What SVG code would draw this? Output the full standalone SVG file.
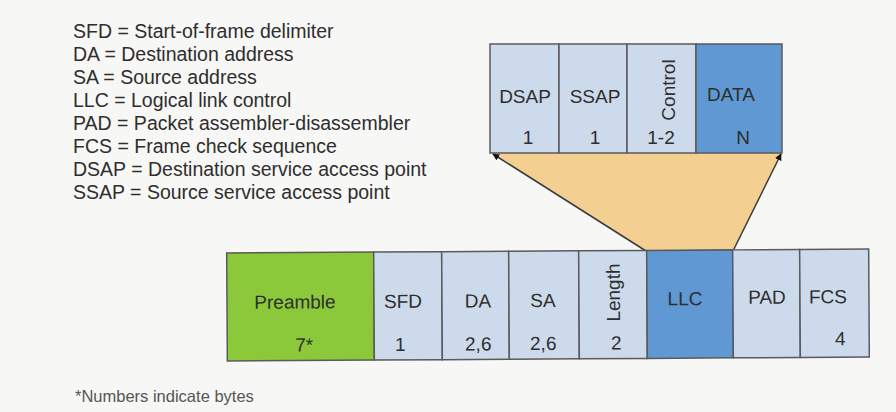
<svg xmlns="http://www.w3.org/2000/svg" width="896" height="412" viewBox="0 0 896 412">
  <style>
    text { font-family: "Liberation Sans", Arial, sans-serif; fill: #2e2e2e; }
    .legend { font-size: 19.5px; }
    .lbl { font-size: 19px; text-anchor: middle; }
    .note { font-size: 16.5px; fill: #555; }
    .cell { stroke: #5a5a5a; stroke-width: 1.5; }
    .light { fill: #ccdaeb; }
    .blue { fill: #5f98d2; }
    .green { fill: #8cc93a; }
    .link { stroke: #3a3a3a; stroke-width: 1.5; fill: none; }
  </style>
  <defs>
    <marker id="head" viewBox="0 0 10 10" refX="9" refY="5" markerWidth="7" markerHeight="7" orient="auto" markerUnits="userSpaceOnUse">
      <path d="M0,0 L10,5 L0,10 z" fill="#111"/>
    </marker>
  </defs>

  <rect x="0" y="0" width="896" height="412" fill="#f7f7f5"/>

  <!-- abbreviations -->
  <g id="legend" class="legend">
    <text x="73" y="38">SFD = Start-of-frame delimiter</text>
    <text x="73" y="61">DA = Destination address</text>
    <text x="73" y="84">SA = Source address</text>
    <text x="73" y="107">LLC = Logical link control</text>
    <text x="73" y="130">PAD = Packet assembler-disassembler</text>
    <text x="73" y="153">FCS = Frame check sequence</text>
    <text x="73" y="176">DSAP = Destination service access point</text>
    <text x="73" y="199">SSAP = Source service access point</text>
  </g>

  <!-- expansion of the LLC field -->
  <g id="connectors">
    <polygon points="492,153 782,153 733,251 646,251" fill="#f4cf92"/>
    <line class="link" x1="646" y1="251" x2="493" y2="154" marker-end="url(#head)"/>
    <line class="link" x1="733" y1="251" x2="781" y2="154" marker-end="url(#head)"/>
  </g>

  <!-- LLC sub-fields -->
  <g id="llc-frame">
    <g id="dsap">
      <rect class="cell light" x="490" y="44" width="69" height="109"/>
      <text class="lbl" x="525" y="103">DSAP</text>
      <text class="lbl" x="528" y="144">1</text>
    </g>
    <g id="ssap">
      <rect class="cell light" x="559" y="44" width="68" height="109"/>
      <text class="lbl" x="595" y="103">SSAP</text>
      <text class="lbl" x="595" y="144">1</text>
    </g>
    <g id="control">
      <rect class="cell light" x="627" y="44" width="69" height="109"/>
      <text class="lbl" transform="translate(675,90) rotate(-90)">Control</text>
      <text class="lbl" x="661" y="144">1-2</text>
    </g>
    <g id="data">
      <rect class="cell blue" x="696" y="44" width="86" height="109"/>
      <text class="lbl" x="731" y="101">DATA</text>
      <text class="lbl" x="743" y="144">N</text>
    </g>
  </g>

  <!-- Ethernet frame -->
  <g id="frame" transform="rotate(-0.35 548 305)">
    <g id="preamble">
      <rect class="cell green" x="227" y="251" width="147" height="108"/>
      <text class="lbl" x="295" y="307">Preamble</text>
      <text class="lbl" x="304" y="350">7*</text>
    </g>
    <g id="sfd">
      <rect class="cell light" x="374" y="251" width="68" height="108"/>
      <text class="lbl" x="403" y="307">SFD</text>
      <text class="lbl" x="400" y="350">1</text>
    </g>
    <g id="da">
      <rect class="cell light" x="442" y="251" width="67" height="108"/>
      <text class="lbl" x="478" y="307">DA</text>
      <text class="lbl" x="478" y="350">2,6</text>
    </g>
    <g id="sa">
      <rect class="cell light" x="509" y="251" width="70" height="108"/>
      <text class="lbl" x="543" y="307">SA</text>
      <text class="lbl" x="543" y="350">2,6</text>
    </g>
    <g id="length">
      <rect class="cell light" x="579" y="251" width="68" height="108"/>
      <text class="lbl" transform="translate(620,293) rotate(-90)">Length</text>
      <text class="lbl" x="616" y="350">2</text>
    </g>
    <g id="llc">
      <rect class="cell blue" x="647" y="251" width="86" height="108"/>
      <text class="lbl" x="685" y="306">LLC</text>
    </g>
    <g id="pad">
      <rect class="cell light" x="733" y="251" width="67" height="108"/>
      <text class="lbl" x="767" y="305">PAD</text>
    </g>
    <g id="fcs">
      <rect class="cell light" x="800" y="251" width="69" height="108"/>
      <text class="lbl" x="828" y="305">FCS</text>
      <text class="lbl" x="840" y="347">4</text>
    </g>
  </g>

  <text id="footnote" class="note" x="75" y="402">*Numbers indicate bytes</text>
</svg>
